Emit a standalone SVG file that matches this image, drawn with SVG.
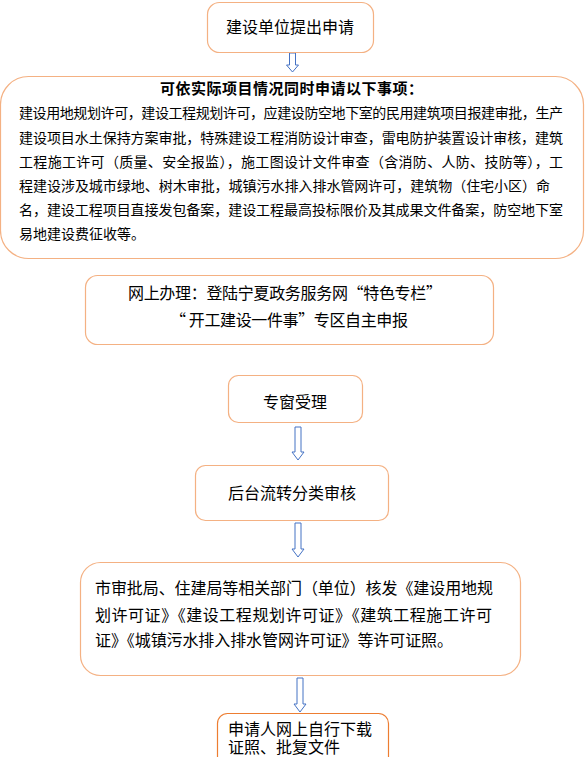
<svg xmlns="http://www.w3.org/2000/svg" width="585" height="757" viewBox="0 0 585 757">
<style>
.box{fill:#fff;stroke:#F4B183;stroke-width:1.2}
.box7{fill:#fff;stroke:#ED7D31;stroke-width:1.2}
.t{font-family:"Noto Sans CJK SC","Noto Sans",sans-serif;fill:#000}
.arr{fill:#fff;stroke:#4472C4;stroke-width:1}
</style>
<rect width="585" height="757" fill="#fff"/>
<g id="connectors">
<path class="arr" d="M289.5,53 H295.5 V65 H298.5 L292.5,72 L286.5,65 H289.5 Z"/>
<path class="arr" d="M295,427 H301 V452 H304 L298,460 L292,452 H295 Z"/>
<path class="arr" d="M295,523 H301 V549 H304 L298,557 L292,549 H295 Z"/>
<path class="arr" d="M297,678 H303 V704 H306 L300,712 L294,704 H297 Z"/>
</g>
<g id="n1">
<rect class="box" x="207.5" y="2.5" width="166" height="50" rx="12"/>
<text class="t" x="290" y="33" font-size="16" text-anchor="middle">建设单位提出申请</text>
</g>
<g id="n2">
<rect class="box" x="0.5" y="76.5" width="583" height="182" rx="28"/>
<text class="t" x="160" y="94" font-size="15" font-weight="bold" textLength="263" lengthAdjust="spacing">可依实际项目情况同时申请以下事项：</text>
<g class="t" font-size="14">
<text x="19" y="118" textLength="544" lengthAdjust="spacing">建设用地规划许可，建设工程规划许可，应建设防空地下室的民用建筑项目报建审批，生产</text>
<text x="19" y="143" textLength="544" lengthAdjust="spacing">建设项目水土保持方案审批，特殊建设工程消防设计审查，雷电防护装置设计审核，建筑</text>
<text x="19" y="167" textLength="544" lengthAdjust="spacing">工程施工许可（质量、安全报监），施工图设计文件审查（含消防、人防、技防等），工</text>
<text x="19" y="191" textLength="531" lengthAdjust="spacing">程建设涉及城市绿地、树木审批，城镇污水排入排水管网许可，建筑物（住宅小区）命</text>
<text x="19" y="215" textLength="544" lengthAdjust="spacing">名，建设工程项目直接发包备案，建设工程最高投标限价及其成果文件备案，防空地下室</text>
<text x="19" y="239">易地建设费征收等。</text>
</g>
</g>
<g id="n3">
<rect class="box" x="85.5" y="275.5" width="408" height="69" rx="12"/>
<text class="t" x="128" y="299" font-size="16" textLength="314" lengthAdjust="spacing">网上办理：登陆宁夏政务服务网“特色专栏”</text>
<text class="t" x="170" y="326" font-size="16" textLength="238" lengthAdjust="spacing">“ 开工建设一件事”专区自主申报</text>
</g>
<g id="n4">
<rect class="box" x="228.5" y="375.5" width="134" height="47" rx="10"/>
<text class="t" x="295" y="408" font-size="16" text-anchor="middle">专窗受理</text>
</g>
<g id="n5">
<rect class="box" x="195.5" y="465.5" width="193" height="55" rx="10"/>
<text class="t" x="292" y="499" font-size="16" text-anchor="middle">后台流转分类审核</text>
</g>
<g id="n6">
<rect class="box" x="80.5" y="562.5" width="440" height="113" rx="20"/>
<g class="t" font-size="16">
<text x="95" y="594" textLength="398" lengthAdjust="spacing">市审批局、住建局等相关部门（单位）核发《建设用地规</text>
<text x="95" y="621" textLength="397" lengthAdjust="spacing">划许可证》《建设工程规划许可证》《建筑工程施工许可</text>
<text x="95" y="646" textLength="358" lengthAdjust="spacing">证》《城镇污水排入排水管网许可证》等许可证照。</text>
</g>
</g>
<g id="n7">
<rect class="box7" x="217.5" y="713.5" width="171" height="60" rx="10"/>
<text class="t" x="228" y="735" font-size="16">申请人网上自行下载</text>
<text class="t" x="228" y="753" font-size="16">证照、批复文件</text>
</g>
</svg>
